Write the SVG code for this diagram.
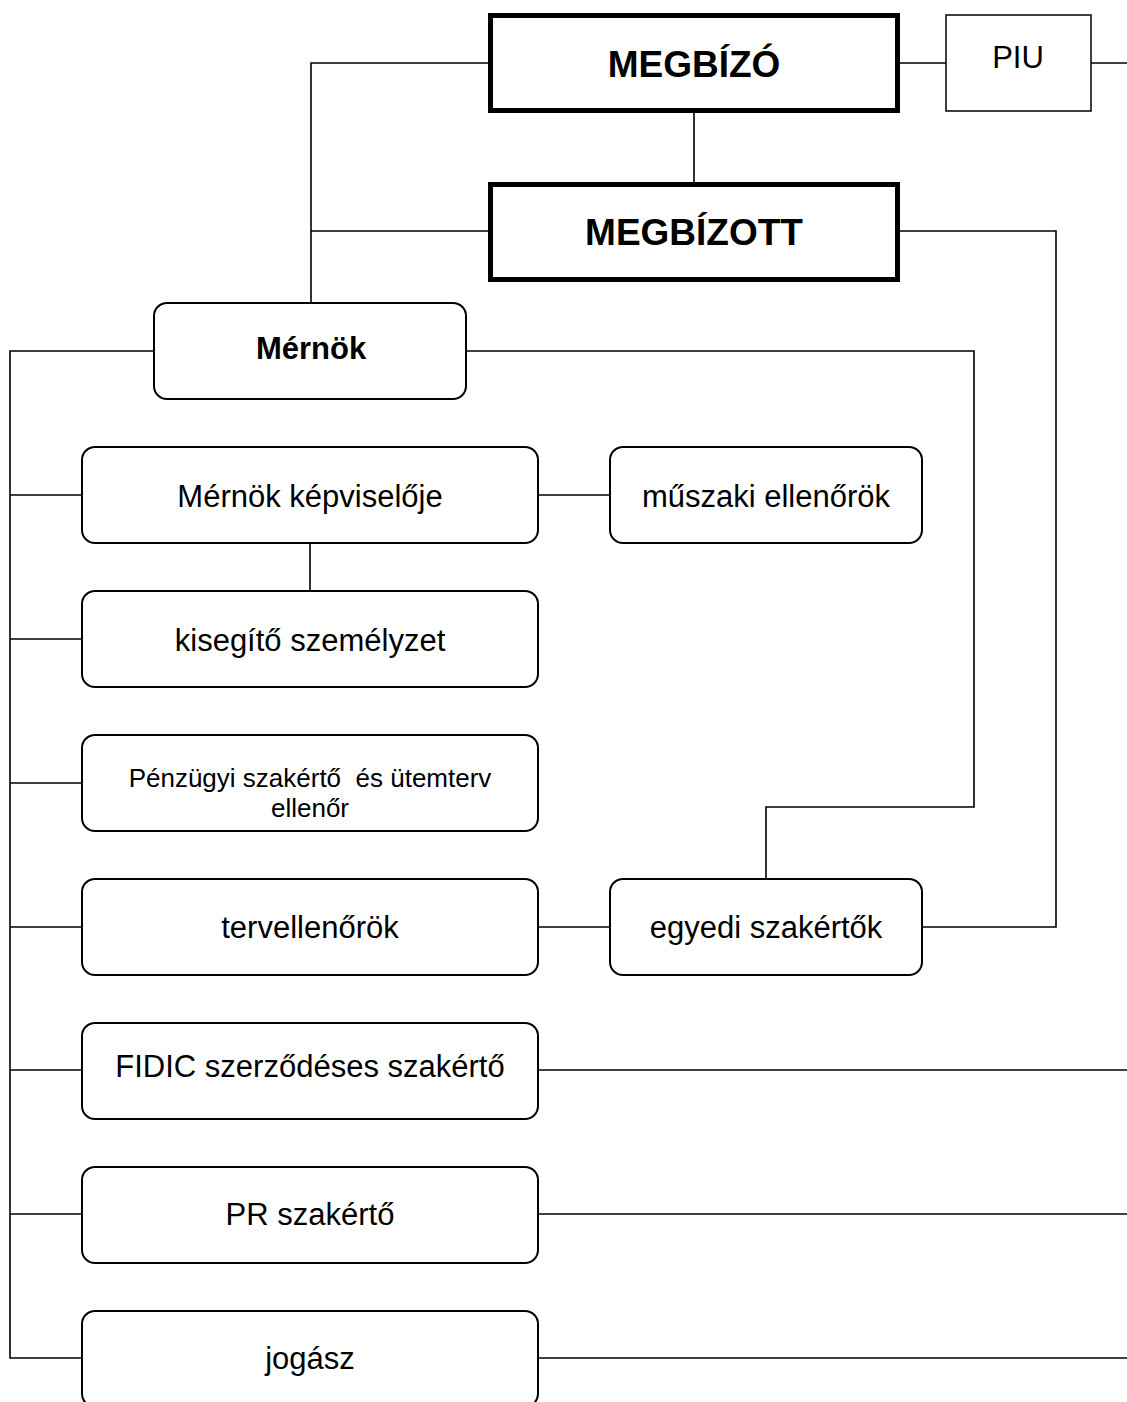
<svg xmlns="http://www.w3.org/2000/svg" width="1127" height="1402" viewBox="0 0 1127 1402">
<style>
.thick{fill:#fff;stroke:#000;stroke-width:5}
.piu{fill:#fff;stroke:#000;stroke-width:1.5}
.rb{fill:#fff;stroke:#000;stroke-width:2}
.ln{fill:none;stroke:#000;stroke-width:1.6}
text{font-family:"Liberation Sans",Arial,sans-serif;text-anchor:middle;fill:#000}
.big{font-size:37px;font-weight:bold}
.t{font-size:31px}
.s{font-size:26px;white-space:pre}
</style>
<rect width="1127" height="1402" fill="#fff"/>
<g id="connectors">
<polyline class="ln" points="490,63 311,63 311,303"/>
<line class="ln" x1="311" y1="231" x2="490" y2="231"/>
<line class="ln" x1="694" y1="111" x2="694" y2="184"/>
<line class="ln" x1="898" y1="63" x2="946" y2="63"/>
<line class="ln" x1="1091" y1="63" x2="1127" y2="63"/>
<polyline class="ln" points="898,231 1056,231 1056,927 922,927"/>
<polyline class="ln" points="466,351 974,351 974,807 766,807 766,879"/>
<polyline class="ln" points="154,351 10,351 10,1358 82,1358"/>
<line class="ln" x1="10" y1="495" x2="82" y2="495"/>
<line class="ln" x1="10" y1="639" x2="82" y2="639"/>
<line class="ln" x1="10" y1="783" x2="82" y2="783"/>
<line class="ln" x1="10" y1="927" x2="82" y2="927"/>
<line class="ln" x1="10" y1="1070" x2="82" y2="1070"/>
<line class="ln" x1="10" y1="1214" x2="82" y2="1214"/>
<line class="ln" x1="538" y1="495" x2="610" y2="495"/>
<line class="ln" x1="310" y1="543" x2="310" y2="591"/>
<line class="ln" x1="538" y1="927" x2="610" y2="927"/>
<line class="ln" x1="538" y1="1070" x2="1127" y2="1070"/>
<line class="ln" x1="538" y1="1214" x2="1127" y2="1214"/>
<line class="ln" x1="538" y1="1358" x2="1127" y2="1358"/>
</g>
<g id="megbizo"><rect class="thick" x="490.5" y="15.5" width="407" height="95"/><text class="big" x="694" y="77">MEGBÍZÓ</text></g>
<g id="megbizott"><rect class="thick" x="490.5" y="184.5" width="407" height="95"/><text class="big" x="694" y="245">MEGBÍZOTT</text></g>
<g id="piu"><rect class="piu" x="946" y="15" width="145" height="96"/><text class="t" x="1018" y="68">PIU</text></g>
<g id="mernok"><rect class="rb" x="154" y="303" width="312" height="96" rx="13"/><text class="t" x="311" y="359" font-weight="bold" font-size="30">Mérnök</text></g>
<g id="kepviselo"><rect class="rb" x="82" y="447" width="456" height="96" rx="13"/><text class="t" x="310" y="507">Mérnök képviselője</text></g>
<g id="muszaki"><rect class="rb" x="610" y="447" width="312" height="96" rx="13"/><text class="t" x="766" y="507">műszaki ellenőrök</text></g>
<g id="kisegito"><rect class="rb" x="82" y="591" width="456" height="96" rx="13"/><text class="t" x="310" y="651">kisegítő személyzet</text></g>
<g id="penzugyi"><rect class="rb" x="82" y="735" width="456" height="96" rx="13"/><text class="s" x="310" y="787">Pénzügyi szakértő  és ütemterv</text><text class="s" x="310" y="817">ellenőr</text></g>
<g id="tervellenorok"><rect class="rb" x="82" y="879" width="456" height="96" rx="13"/><text class="t" x="310" y="938">tervellenőrök</text></g>
<g id="egyedi"><rect class="rb" x="610" y="879" width="312" height="96" rx="13"/><text class="t" x="766" y="938">egyedi szakértők</text></g>
<g id="fidic"><rect class="rb" x="82" y="1023" width="456" height="96" rx="13"/><text class="t" x="310" y="1077">FIDIC szerződéses szakértő</text></g>
<g id="pr"><rect class="rb" x="82" y="1167" width="456" height="96" rx="13"/><text class="t" x="310" y="1225">PR szakértő</text></g>
<g id="jogasz"><rect class="rb" x="82" y="1311" width="456" height="96" rx="13"/><text class="t" x="310" y="1369">jogász</text></g>
</svg>
